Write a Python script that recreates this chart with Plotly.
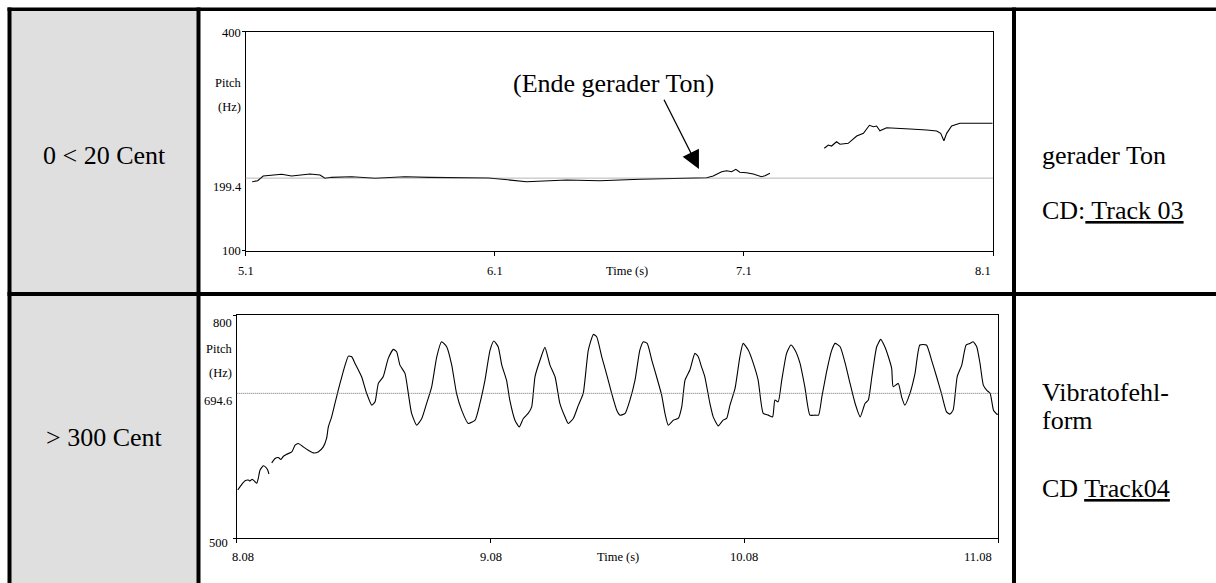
import plotly.graph_objects as go

W, H = 1216, 583
SERIF = "Liberation Serif, Times New Roman, serif"

# ---------------- data ----------------
row_labels = ["0 &lt; 20 Cent", "&gt; 300 Cent"]

# top chart: straight tone (Hz over time in s)
top_t1 = [5.127, 5.149, 5.171, 5.205, 5.245, 5.285, 5.326, 5.359, 5.399, 5.419, 5.446,
          5.526, 5.620, 5.740, 5.834, 5.968, 6.074, 6.121, 6.168, 6.228, 6.389, 6.522,
          6.683, 6.817, 6.951, 6.977, 7.011, 7.031, 7.051, 7.068, 7.084, 7.111, 7.138,
          7.171, 7.185, 7.205]
top_f1 = [194.5, 195.9, 202.3, 203.3, 204.7, 202.3, 203.3, 205.1, 203.7, 199.2, 200.5,
          201.4, 199.2, 201.4, 200.5, 200.0, 199.6, 198.2, 196.8, 194.5, 196.8, 195.9,
          197.8, 198.6, 200.0, 202.3, 208.2, 209.6, 208.2, 211.5, 207.4, 206.8, 205.1,
          201.4, 202.7, 206.0]
top_t2 = [7.423, 7.439, 7.452, 7.472, 7.486, 7.519, 7.553, 7.580, 7.604, 7.620, 7.633,
          7.646, 7.673, 7.700, 7.767, 7.834, 7.874, 7.890, 7.903, 7.914, 7.934, 7.967,
          8.021, 8.098]
top_f2 = [240.3, 244.8, 243.4, 249.3, 245.8, 247.1, 257.1, 260.8, 271.8, 269.9, 270.8,
          264.4, 268.5, 267.7, 266.7, 265.3, 264.0, 260.8, 250.7, 260.8, 270.8, 274.5,
          274.5, 274.5]
top_ref = 199.4
top_yrange = [100, 400]
top_xrange = [5.1, 8.1]
top_xticks = [5.1, 6.1, 7.1, 8.1]
top_xticklabels = ["5.1", "6.1", "7.1", "8.1"]
top_ylabels = [400, 199.4, 100]

# bottom chart: faulty vibrato
bot_t1 = [8.084, 8.100, 8.113, 8.126, 8.132, 8.141, 8.152, 8.159, 8.165, 8.172, 8.185,
          8.195, 8.202, 8.207]
bot_f1 = [564.6, 572.2, 577.1, 578.0, 576.7, 579.0, 575.7, 573.6, 580.3, 591.5, 597.2,
          595.1, 591.5, 586.1]
bot_t2 = [8.218, 8.231, 8.244, 8.254, 8.264, 8.277, 8.297, 8.310, 8.323, 8.342, 8.362,
          8.382, 8.401, 8.421, 8.434, 8.441, 8.454, 8.467, 8.480, 8.494, 8.507, 8.520,
          8.533, 8.546, 8.572, 8.592, 8.612, 8.625, 8.638, 8.657, 8.677, 8.697, 8.710,
          8.723, 8.743, 8.756, 8.769, 8.789, 8.809, 8.828, 8.848, 8.868, 8.887, 8.907,
          8.927, 8.946, 8.966, 8.992, 9.019, 9.038, 9.058, 9.078, 9.093, 9.110, 9.124,
          9.143, 9.156, 9.176, 9.193, 9.209, 9.228, 9.242, 9.255, 9.275, 9.294, 9.314,
          9.334, 9.353, 9.373, 9.386, 9.406, 9.426, 9.445, 9.465, 9.485, 9.498, 9.518,
          9.538, 9.557, 9.577, 9.590, 9.610, 9.629, 9.649, 9.668, 9.682, 9.697, 9.715,
          9.734, 9.754, 9.767, 9.780, 9.800, 9.819, 9.833, 9.846, 9.865, 9.885, 9.898,
          9.911, 9.924, 9.944, 9.957, 9.977, 9.996, 10.010, 10.023, 10.043, 10.062,
          10.075, 10.095, 10.115, 10.134, 10.154, 10.174, 10.191, 10.200, 10.213, 10.227,
          10.246, 10.263, 10.279, 10.299, 10.318, 10.338, 10.358, 10.372, 10.385, 10.405,
          10.424, 10.437, 10.457, 10.477, 10.496, 10.516, 10.536, 10.555, 10.568, 10.582,
          10.601, 10.617, 10.633, 10.647, 10.660, 10.666, 10.686, 10.699, 10.712, 10.732,
          10.752, 10.771, 10.797, 10.817, 10.837, 10.856, 10.876, 10.889, 10.902, 10.918,
          10.936, 10.953, 10.968, 10.981, 10.995, 11.008, 11.021, 11.034, 11.048, 11.061,
          11.074, 11.080]
bot_f2 = [601.0, 607.0, 608.3, 605.6, 610.0, 612.7, 615.8, 624.9, 627.2, 622.6, 618.1,
          614.5, 615.8, 622.6, 633.9, 649.5, 663.0, 681.0, 699.0, 716.9, 732.6, 744.7,
          743.8, 734.9, 716.9, 694.5, 678.7, 683.2, 708.0, 716.9, 741.6, 753.8, 750.5,
          732.6, 721.4, 694.5, 667.6, 651.8, 660.8, 681.0, 703.4, 743.8, 764.0, 757.3,
          732.6, 694.5, 672.0, 654.1, 658.5, 681.0, 712.4, 752.8, 765.0, 757.3, 733.0,
          712.0, 685.0, 658.5, 649.5, 660.8, 667.6, 676.5, 716.9, 739.4, 756.5, 732.6,
          716.9, 681.0, 663.0, 654.1, 660.8, 678.7, 694.5, 752.8, 773.9, 770.8, 743.8,
          719.2, 694.5, 672.0, 665.3, 667.6, 685.5, 712.4, 752.8, 764.0, 761.8, 739.4,
          716.9, 692.2, 667.6, 651.8, 658.5, 660.8, 676.5, 712.4, 726.0, 748.4, 743.8,
          730.3, 716.9, 681.0, 663.0, 650.9, 658.5, 660.8, 678.7, 701.2, 743.8,
          761.8, 752.8, 734.9, 712.4, 667.6, 665.3, 663.0, 685.5, 683.2, 712.4,
          748.4, 759.6, 752.8, 734.9, 703.4, 665.3, 665.3, 665.3, 689.9, 726.0,
          752.8, 761.8, 757.3, 734.9, 708.0, 681.0, 663.0, 681.0, 685.5, 716.9,
          757.3, 767.2, 757.3, 743.8, 728.2, 703.4, 708.0, 689.9, 678.7, 694.5,
          721.4, 759.6, 759.6, 739.4, 716.9, 694.5, 669.7, 666.6, 672.0, 716.9,
          732.6, 759.6, 761.8, 764.0, 757.3, 734.9, 705.7, 699.0, 694.5, 672.0,
          666.6, 666.6]
bot_ref = 694.6
bot_yrange = [500, 800]
bot_xrange = [8.08, 11.08]
bot_xticks = [8.08, 9.08, 10.08, 11.08]
bot_xticklabels = ["8.08", "9.08", "10.08", "11.08"]
bot_ylabels = [800, 694.6, 500]

annot_text = "(Ende gerader Ton)"
right_texts_row1 = ["gerader Ton", "CD:<u> Track 03</u>"]
right_texts_row2 = ["Vibratofehl-", "form", "CD <u>Track04</u>"]


# ---------------- helpers ----------------
def fx(p):
    return p / W


def fy(p):
    return 1 - p / H


fig = go.Figure()

line_style = dict(color="black", width=1.1)
spline_style = dict(color="black", width=1.1, shape="spline", smoothing=0.5)
fig.add_trace(go.Scatter(x=top_t1, y=top_f1, mode="lines", line=line_style, xaxis="x", yaxis="y", hoverinfo="skip"))
fig.add_trace(go.Scatter(x=top_t2, y=top_f2, mode="lines", line=line_style, xaxis="x", yaxis="y", hoverinfo="skip"))
fig.add_trace(go.Scatter(x=bot_t1, y=bot_f1, mode="lines", line=spline_style, xaxis="x2", yaxis="y2", hoverinfo="skip"))
fig.add_trace(go.Scatter(x=bot_t2, y=bot_f2, mode="lines", line=spline_style, xaxis="x2", yaxis="y2", hoverinfo="skip"))

axis_common = dict(showline=True, linecolor="black", linewidth=1, mirror=True, showgrid=False,
                   zeroline=False, ticks="outside", tickcolor="black", tickwidth=1,
                   showticklabels=False, fixedrange=True)

fig.update_layout(
    width=W, height=H,
    margin=dict(l=0, r=0, t=0, b=0),
    paper_bgcolor="white", plot_bgcolor="white",
    showlegend=False,
    font=dict(family=SERIF, color="black"),
    xaxis=dict(domain=[fx(245.5), fx(993)], range=top_xrange, anchor="y",
               tickvals=top_xticks, ticklen=4, **axis_common),
    yaxis=dict(domain=[fy(250.7), fy(31.7)], range=top_yrange, anchor="x",
               tickvals=top_yrange, ticklen=3, **axis_common),
    xaxis2=dict(domain=[fx(236.7), fx(998.3)], range=bot_xrange, anchor="y2",
                tickvals=bot_xticks, ticklen=4, **axis_common),
    yaxis2=dict(domain=[fy(538), fy(315)], range=bot_yrange, anchor="x2",
                tickvals=bot_yrange, ticklen=3, **axis_common),
)

shapes = []
# table: grey first column
shapes.append(dict(type="rect", xref="paper", yref="paper", x0=fx(11), x1=fx(197), y0=fy(583), y1=fy(10),
                   fillcolor="#dfdfdf", line=dict(width=0), layer="below"))
# table borders (black bars)
for (x0, x1, y0, y1) in [
    (7.5, 1216, 7.5, 11),      # top border
    (7.5, 11.5, 7.5, 583),     # left border
    (196.5, 200.5, 7.5, 583),  # column divider
    (1012, 1016, 7.5, 583),    # column divider right
    (7.5, 1216, 292, 296),     # row divider
]:
    shapes.append(dict(type="rect", xref="paper", yref="paper", x0=fx(x0), x1=fx(x1), y0=fy(y1), y1=fy(y0),
                       fillcolor="black", line=dict(width=0), layer="above"))
# dotted reference lines
shapes.append(dict(type="line", xref="x domain", yref="y", x0=0, x1=1, y0=top_ref, y1=top_ref,
                   line=dict(color="#6e6e6e", width=1, dash="1px,1px")))
shapes.append(dict(type="line", xref="x2 domain", yref="y2", x0=0, x1=1, y0=bot_ref, y1=bot_ref,
                   line=dict(color="#6e6e6e", width=1, dash="1px,1px")))
fig.update_layout(shapes=shapes)

TICKFONT = dict(family=SERIF, size=12.5, color="black")
ann = []


def ylab(text, xa, ya, val, xshift, yshift):
    ann.append(dict(text=text, xref=f"{xa} domain", x=0, yref=ya, y=val, xanchor="right",
                    yanchor="middle", xshift=xshift, yshift=yshift, showarrow=False, font=TICKFONT))


# top y labels
ylab("400", "x", "y", top_ylabels[0], -2.5, -1.3)
ylab("199.4", "x", "y", top_ylabels[1], -1.5, -9)
ylab("100", "x", "y", top_ylabels[2], -2.5, -0.5)
# bottom y labels
ylab("800", "x2", "y2", bot_ylabels[0], -2.5, -8.3)
ylab("694.6", "x2", "y2", bot_ylabels[1], -2.5, -7.4)
ylab("500", "x2", "y2", bot_ylabels[2], -6.5, -5.3)

# axis titles "Pitch (Hz)"
for xa, ya, yp, yh in [("x", "y", 0.766, 0.656), ("x2", "y2", 0.846, 0.741)]:
    ann.append(dict(text="Pitch", xref=f"{xa} domain", x=0, yref=f"{ya} domain", y=yp, xanchor="right",
                    yanchor="middle", xshift=-3, showarrow=False, font=TICKFONT))
    ann.append(dict(text="(Hz)", xref=f"{xa} domain", x=0, yref=f"{ya} domain", y=yh, xanchor="right",
                    yanchor="middle", xshift=-3, showarrow=False, font=TICKFONT))

# x tick labels
top_shift = [0, 0, 0, -10]
for v, t, s in zip(top_xticks, top_xticklabels, top_shift):
    ann.append(dict(text=t, xref="x", x=v, yref="y domain", y=0, xanchor="center", yanchor="middle",
                    xshift=s, yshift=-20.3, showarrow=False, font=TICKFONT))
bot_shift = [6, 0, 0, -20]
for v, t, s in zip(bot_xticks, bot_xticklabels, bot_shift):
    ann.append(dict(text=t, xref="x2", x=v, yref="y2 domain", y=0, xanchor="center", yanchor="middle",
                    xshift=s, yshift=-19.3, showarrow=False, font=TICKFONT))
# "Time (s)"
ann.append(dict(text="Time (s)", xref="x", x=6.63, yref="y domain", y=0, yanchor="middle",
                yshift=-20.3, showarrow=False, font=TICKFONT))
ann.append(dict(text="Time (s)", xref="x2", x=9.582, yref="y2 domain", y=0, yanchor="middle",
                yshift=-19.3, showarrow=False, font=TICKFONT))

# callout
ann.append(dict(text=annot_text, xref="x", x=6.575, yref="y", y=329.7, xanchor="center",
                yanchor="middle", showarrow=False, font=dict(family=SERIF, size=26, color="black")))
ann.append(dict(text="", xref="x", x=6.92, yref="y", y=211.9, ax=-35.7, ay=-70.7,
                showarrow=True, arrowhead=2, arrowsize=2.8, arrowwidth=1.3, arrowcolor="black",
                standoff=0, startstandoff=0))

BIG = dict(family=SERIF, size=26, color="black")
# left column
ann.append(dict(text=row_labels[0], xref="paper", x=fx(104), yref="paper", y=fy(155),
                xanchor="center", yanchor="middle", showarrow=False, font=BIG))
ann.append(dict(text=row_labels[1], xref="paper", x=fx(104), yref="paper", y=fy(437),
                xanchor="center", yanchor="middle", showarrow=False, font=BIG))
# right column
for txt, yp in zip(right_texts_row1, [155, 210]):
    ann.append(dict(text=txt, xref="paper", x=fx(1040), yref="paper", y=fy(yp),
                    xanchor="left", yanchor="middle", showarrow=False, font=BIG))
for txt, yp in zip(right_texts_row2, [392, 420, 488]):
    ann.append(dict(text=txt, xref="paper", x=fx(1040), yref="paper", y=fy(yp),
                    xanchor="left", yanchor="middle", showarrow=False, font=BIG))

fig.update_layout(annotations=ann)

fig.write_html("out.html", config={"displayModeBar": False})
